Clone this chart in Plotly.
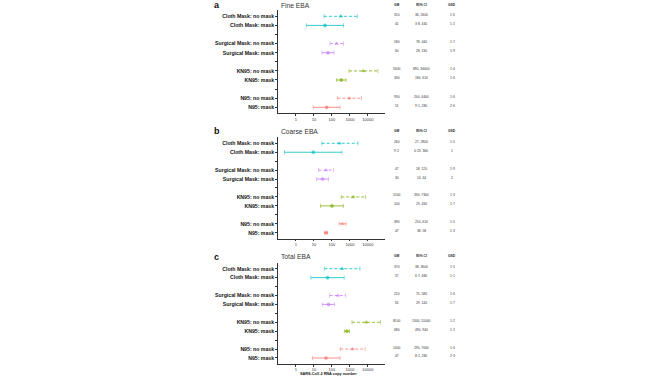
import plotly.graph_objects as go

W, H = 668, 376

# ---------------- data ----------------
row_labels = ["Cloth Mask: no mask", "Cloth Mask: mask", "",
              "Surgical Mask: no mask", "Surgical Mask: mask", "",
              "KN95: no mask", "KN95: mask", "",
              "N95: no mask", "N95: mask"]
groups = ["Cloth", "Cloth", "Surgical", "Surgical", "KN95", "KN95", "N95", "N95"]
masked = [False, True, False, True, False, True, False, True]
row_index = [0, 1, 3, 4, 6, 7, 9, 10]

panel_letters = ["a", "b", "c"]
panel_titles = ["Fine EBA", "Coarse EBA", "Total EBA"]

fine_gm = [310, 41, 180, 60, 5600, 330, 930, 51]
fine_lo = [36, 3.8, 78, 28, 890, 180, 200, 9.1]
fine_hi = [2600, 440, 440, 130, 36000, 610, 4400, 280]
fine_gm_txt = ["310", "41", "180", "60", "5600", "330", "930", "51"]
fine_ci_txt = ["36, 2600", "3·8, 440", "78, 440", "28, 130", "890, 36000", "180, 610", "200, 4400", "9·1, 280"]
fine_gsd_txt = ["1·6", "1·2", "1·7", "1·9", "1·4", "1·6", "1·6", "2·6"]

coarse_gm = [260, 9.2, 47, 30, 1500, 100, 390, 47]
coarse_lo = [27, 0.23, 18, 14, 330, 23, 250, 38]
coarse_hi = [2800, 360, 120, 64, 7300, 430, 610, 58]
coarse_gm_txt = ["260", "9·2", "47", "30", "1500", "100", "390", "47"]
coarse_ci_txt = ["27, 2800", "0·23, 360", "18, 120", "14, 64", "330, 7300", "23, 430", "250, 610", "38, 58"]
coarse_gsd_txt = ["1·5", "1", "1·9", "2", "1·3", "1·7", "1·5", "1·3"]

total_gm = [370, 57, 210, 65, 8100, 680, 1400, 47]
total_lo = [38, 6.7, 75, 29, 1300, 490, 290, 8.2]
total_hi = [3600, 480, 580, 140, 51000, 940, 7000, 280]
total_gm_txt = ["370", "57", "210", "65", "8100", "680", "1400", "47"]
total_ci_txt = ["38, 3600", "6·7, 480", "75, 580", "29, 140", "1300, 51000", "490, 940", "290, 7000", "8·2, 280"]
total_gsd_txt = ["1·5", "1·1", "1·6", "1·7", "1·2", "1·2", "1·4", "2·3"]

x_tickvals = [1, 10, 100, 1000, 10000]
x_ticktext = ["1", "10", "100", "1000", "10000"]
table_headers = ["GM", "95% CI", "GSD"]
x_title = "SARS-CoV-2 RNA copy number"

colors = {"Cloth": "#00BFC4", "Surgical": "#C77CFF", "KN95": "#7CAE00", "N95": "#F8766D"}

panels = [
    (fine_gm, fine_lo, fine_hi, fine_gm_txt, fine_ci_txt, fine_gsd_txt),
    (coarse_gm, coarse_lo, coarse_hi, coarse_gm_txt, coarse_ci_txt, coarse_gsd_txt),
    (total_gm, total_lo, total_hi, total_gm_txt, total_ci_txt, total_gsd_txt),
]

# ---------------- layout geometry (pixels) ----------------
row_px = [(16.3, 107.3), (143.3, 232.7), (268.7, 358.0)]
pad = 0.65
x_left, x_right = 278, 385
letter_y = [5, 131, 257]
title_y = [6, 131.7, 256.3]
col_x = [396.7, 421, 452]

FONT = "Liberation Sans"
fig = go.Figure()
annotations = []
layout = {}

for p, (gm, lo, hi, gmt, cit, gsdt) in enumerate(panels):
    sfx = "" if p == 0 else str(p + 1)
    xa, ya = "x" + sfx, "y" + sfx
    r0, r10 = row_px[p]
    s = (r10 - r0) / 10
    top = r0 - pad * s
    bot = r10 + pad * s
    layout["xaxis" + sfx] = dict(
        domain=[x_left / W, x_right / W], anchor=ya, type="log",
        range=[-1, 4.95], tickvals=x_tickvals, ticktext=x_ticktext,
        ticks="outside", ticklen=2, tickwidth=0.7, tickcolor="#333",
        showline=True, linecolor="#333", linewidth=0.7,
        showgrid=False, zeroline=False,
        tickfont=dict(family=FONT, size=4, color="#333"),
    )
    layout["yaxis" + sfx] = dict(
        domain=[1 - bot / H, 1 - top / H], anchor=xa,
        range=[10 + pad, -pad], tickmode="array",
        tickvals=list(range(11)), ticktext=row_labels,
        ticks="outside", ticklen=2, tickwidth=0.7, tickcolor="#333",
        showline=True, linecolor="#333", linewidth=0.7,
        showgrid=False, zeroline=False,
        tickfont=dict(family=FONT, size=5.2, color="#111", weight="bold"),
    )
    for i in range(8):
        c = colors[groups[i]]
        sym = "circle" if masked[i] else "triangle-up"
        fig.add_trace(go.Scatter(
            x=[lo[i], gm[i], hi[i]], y=[row_index[i]] * 3,
            mode="lines+markers", xaxis=xa, yaxis=ya,
            line=dict(color=c, width=0.8, dash="solid" if masked[i] else "3px,2px"),
            marker=dict(symbol=["line-ns", sym, "line-ns"], size=[3, 3, 3],
                        color=c, line=dict(color=c, width=0.7)),
            showlegend=False, hoverinfo="skip", cliponaxis=False,
        ))
        for txt, cx in zip([gmt[i], cit[i], gsdt[i]], col_x):
            annotations.append(dict(
                x=cx / W, xref="paper", y=row_index[i], yref=ya, yshift=1.5,
                text=txt, showarrow=False, xanchor="center", yanchor="middle",
                font=dict(family=FONT, size=3.3, color="#333"),
            ))
    for txt, cx in zip(table_headers, col_x):
        annotations.append(dict(
            x=cx / W, xref="paper", y=1 - (title_y[p] - 0.7) / H, yref="paper",
            text=txt, showarrow=False, xanchor="center", yanchor="middle",
            font=dict(family=FONT, size=3.3, color="#222", weight="bold"),
        ))
    annotations.append(dict(
        x=279 / W, xref="paper", y=1 - title_y[p] / H, yref="paper",
        text=panel_titles[p], showarrow=False, xanchor="left", yanchor="middle",
        font=dict(family=FONT, size=6.7, color="#333"),
    ))
    annotations.append(dict(
        x=212 / W, xref="paper", y=1 - letter_y[p] / H, yref="paper",
        text=panel_letters[p], showarrow=False, xanchor="left", yanchor="middle",
        font=dict(family=FONT, size=9, color="#111", weight="bold"),
    ))

annotations.append(dict(
    x=328 / W, xref="paper", y=1 - 374 / H, yref="paper",
    text=x_title, showarrow=False, xanchor="center", yanchor="middle",
    font=dict(family=FONT, size=3.8, color="#111", weight="bold"),
))

fig.update_layout(
    width=W, height=H, margin=dict(l=0, r=0, t=0, b=0),
    paper_bgcolor="white", plot_bgcolor="white",
    showlegend=False, annotations=annotations, **layout,
)
fig.write_html(
    "out.html",
    config={"displayModeBar": False},
    post_script="document.body.style.margin='0';document.body.style.overflow='hidden';",
)
